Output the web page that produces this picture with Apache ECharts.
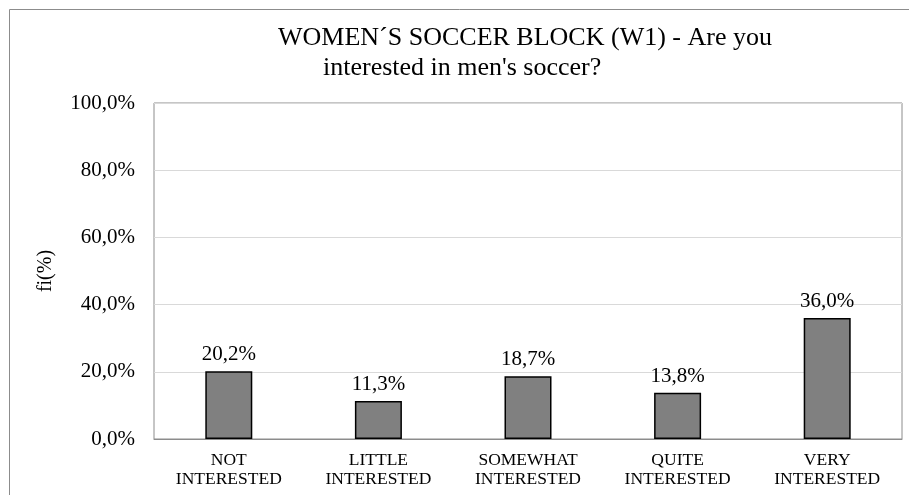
<!DOCTYPE html>
<html>
<head>
<meta charset="utf-8">
<script src="https://cdn.jsdelivr.net/npm/echarts@6/dist/echarts.min.js"></script>
<style>html,body{margin:0;padding:0;background:#fff;}#c{width:909px;height:495px;}</style>
</head>
<body>
<div id="c"></div>
<script>
const categories = ['NOT\nINTERESTED', 'LITTLE\nINTERESTED', 'SOMEWHAT\nINTERESTED', 'QUITE\nINTERESTED', 'VERY\nINTERESTED'];
const values = [20.2, 11.3, 18.7, 13.8, 36.0];
const titleLine1 = 'WOMEN´S SOCCER BLOCK (W1) - Are you';
const titleLine2 = "interested in men's soccer?";
const yAxisName = 'fi(%)';

const serif = '"Liberation Serif", "Times New Roman", serif';
const fmt = v => v.toFixed(1).replace('.', ',') + '%';

const chart = echarts.init(document.getElementById('c'), null, {renderer: 'canvas'});
chart.setOption({
  animation: false,
  backgroundColor: '#fff',
  title: [
    {text: titleLine1, left: 273, top: 20, textStyle: {fontFamily: serif, fontSize: 26, fontWeight: 'normal', color: '#000'}},
    {text: titleLine2, left: 318, top: 50, textStyle: {fontFamily: serif, fontSize: 26, fontWeight: 'normal', color: '#000'}}
  ],
  graphic: [
    {type: 'rect', shape: {x: 9.5, y: 9.5, width: 960, height: 520}, style: {fill: 'none', stroke: '#8c8c8c', lineWidth: 1}, silent: true}
  ],
  grid: {left: 154, right: 7, top: 103, bottom: 56, show: true, borderColor: '#8c8c8c', borderWidth: 1, backgroundColor: 'transparent'},
  xAxis: {
    type: 'category',
    data: categories,
    axisLine: {show: true, lineStyle: {color: '#8c8c8c'}},
    axisTick: {show: false},
    axisLabel: {fontFamily: serif, fontSize: 17.5, color: '#000', margin: 12, lineHeight: 19, interval: 0}
  },
  yAxis: {
    type: 'value',
    min: 0, max: 100, interval: 20,
    name: yAxisName,
    nameLocation: 'middle',
    nameGap: 98,
    nameRotate: 90,
    nameTextStyle: {fontFamily: serif, fontSize: 20, color: '#000'},
    axisLine: {show: false},
    axisTick: {show: false},
    splitLine: {lineStyle: {color: '#d9d9d9', width: 1}},
    axisLabel: {fontFamily: serif, fontSize: 21, color: '#000', margin: 19, formatter: v => fmt(v)}
  },
  series: [{
    type: 'bar',
    data: values,
    barWidth: 47,
    itemStyle: {color: '#808080', borderColor: '#000', borderWidth: 1.5},
    label: {show: true, position: 'top', distance: 6, fontFamily: serif, fontSize: 21, color: '#000', formatter: p => fmt(p.value)}
  }]
});
</script>
</body>
</html>
